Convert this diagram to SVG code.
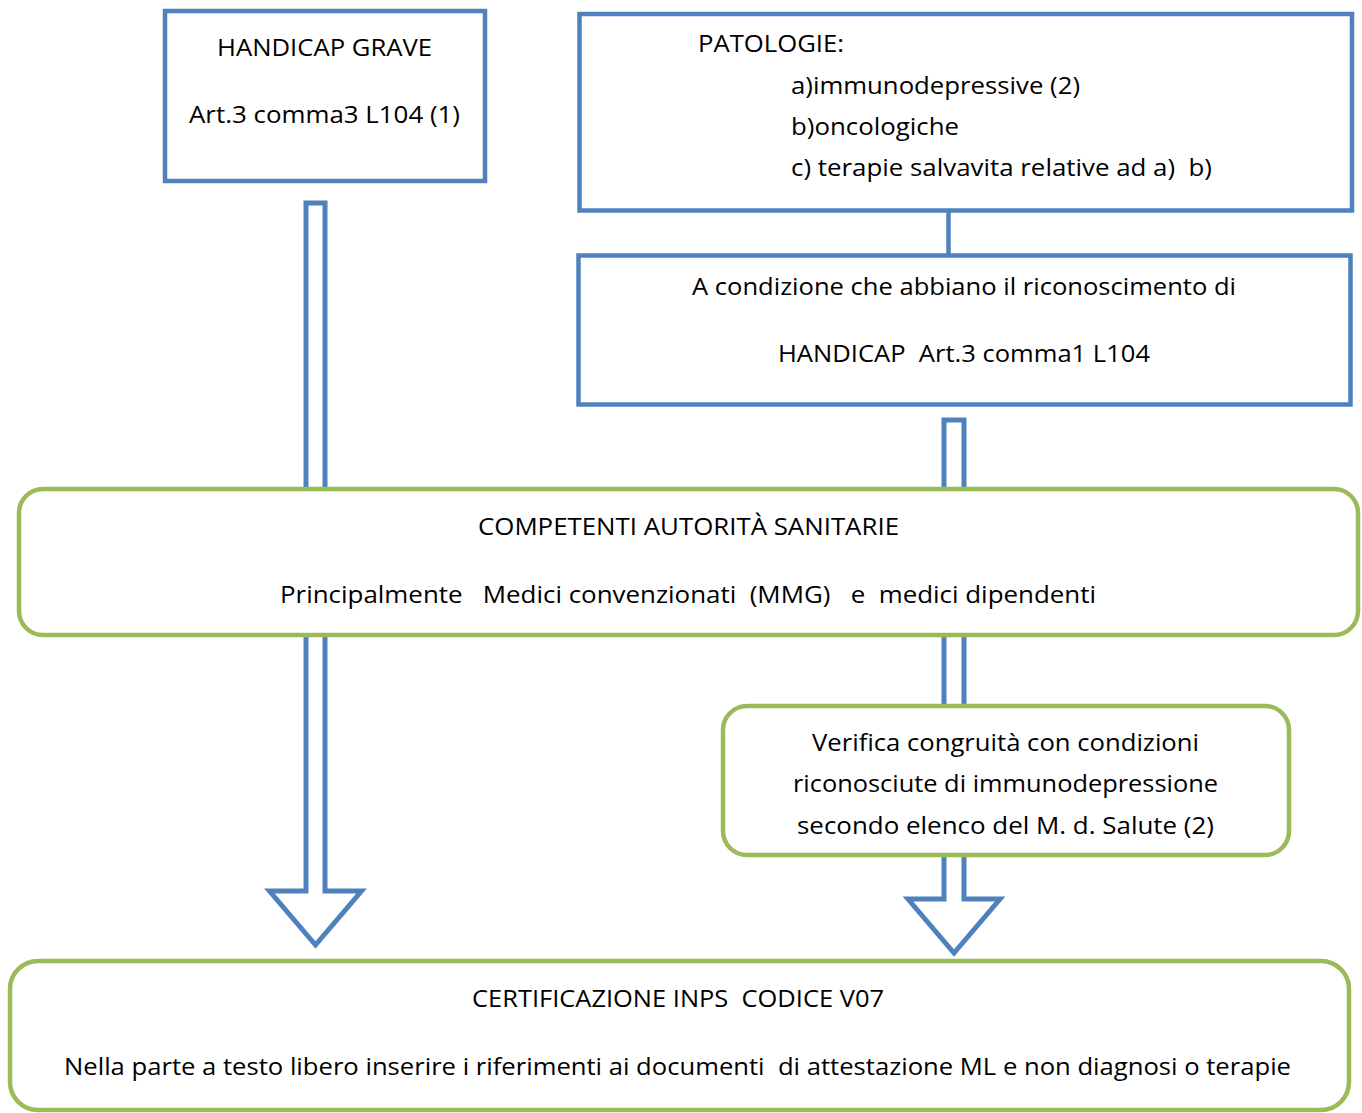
<svg xmlns="http://www.w3.org/2000/svg" width="1362" height="1113" viewBox="0 0 1362 1113">
<style>
.b{fill:#fff;stroke:#4f81bd;stroke-width:4.5}
.g{fill:#fff;stroke:#9bbb59;stroke-width:4.5}
.a{fill:#fff;stroke:#4f81bd;stroke-width:5;stroke-linejoin:miter}
text{font-family:"Open Sans","Noto Sans","Liberation Sans",sans-serif;font-size:23px;fill:#000;white-space:pre}
</style>
<rect width="1362" height="1113" fill="#fff"/>
<g id="connectors">
<line x1="948.5" y1="211" x2="948.5" y2="255" stroke="#4f81bd" stroke-width="4.5"/>
<polygon class="a" points="306,203 325,203 325,891 361.5,891 315.5,945 269.5,891 306,891"/>
<polygon class="a" points="944,420 964,420 964,899 1000,899 954,953 908,899 944,899"/>
</g>
<g id="n1">
<rect class="b" x="165" y="11" width="320" height="170"/>
<text x="217" y="56" textLength="215" lengthAdjust="spacingAndGlyphs">HANDICAP GRAVE</text>
<text x="189" y="123" textLength="271" lengthAdjust="spacingAndGlyphs">Art.3 comma3 L104 (1)</text>
</g>
<g id="n2">
<rect class="b" x="579.5" y="14" width="772.5" height="196.5"/>
<text x="698" y="52" textLength="146" lengthAdjust="spacingAndGlyphs">PATOLOGIE:</text>
<text x="791" y="94" textLength="289" lengthAdjust="spacingAndGlyphs">a)immunodepressive (2)</text>
<text x="791" y="135" textLength="168" lengthAdjust="spacingAndGlyphs">b)oncologiche</text>
<text x="791" y="176" textLength="421" lengthAdjust="spacingAndGlyphs">c) terapie salvavita relative ad a)  b)</text>
</g>
<g id="n3">
<rect class="b" x="578.5" y="255.5" width="772" height="149"/>
<text x="692" y="295" textLength="544" lengthAdjust="spacingAndGlyphs">A condizione che abbiano il riconoscimento di</text>
<text x="778" y="362" textLength="372" lengthAdjust="spacingAndGlyphs">HANDICAP  Art.3 comma1 L104</text>
</g>
<g id="n4">
<rect class="g" x="19" y="489" width="1339" height="146" rx="24"/>
<text x="478" y="535" textLength="421" lengthAdjust="spacingAndGlyphs">COMPETENTI AUTORITÀ SANITARIE</text>
<text x="280" y="603" textLength="816" lengthAdjust="spacingAndGlyphs">Principalmente   Medici convenzionati  (MMG)   e  medici dipendenti</text>
</g>
<g id="n5">
<rect class="g" x="723" y="706" width="566" height="149" rx="24"/>
<text x="812" y="751" textLength="387" lengthAdjust="spacingAndGlyphs">Verifica congruità con condizioni</text>
<text x="793" y="792" textLength="425" lengthAdjust="spacingAndGlyphs">riconosciute di immunodepressione</text>
<text x="797" y="834" textLength="417" lengthAdjust="spacingAndGlyphs">secondo elenco del M. d. Salute (2)</text>
</g>
<g id="n6">
<rect class="g" x="10" y="961" width="1339" height="149" rx="28"/>
<text x="472" y="1007" textLength="412" lengthAdjust="spacingAndGlyphs">CERTIFICAZIONE INPS  CODICE V07</text>
<text x="64" y="1075" textLength="1227" lengthAdjust="spacingAndGlyphs">Nella parte a testo libero inserire i riferimenti ai documenti  di attestazione ML e non diagnosi o terapie</text>
</g>
</svg>
